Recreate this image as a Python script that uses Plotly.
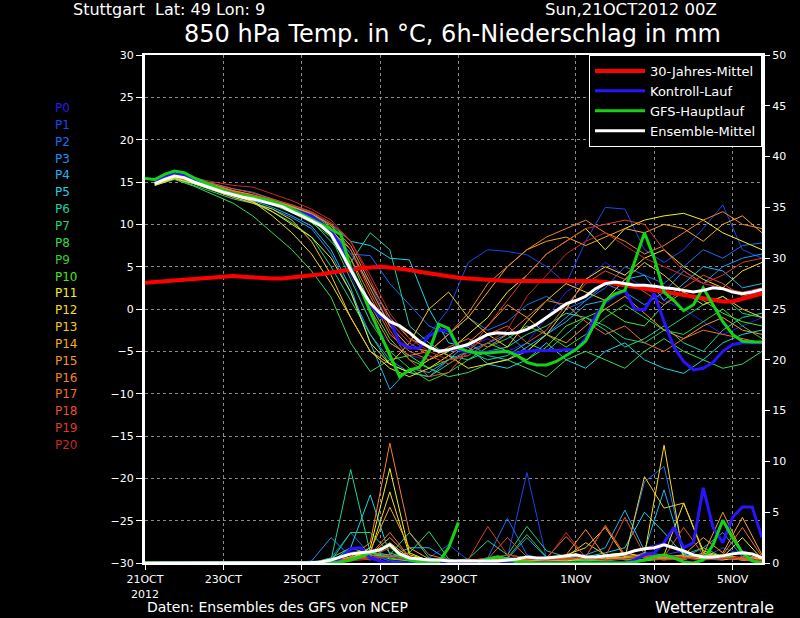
import plotly.graph_objects as go

# ---------------- data ----------------
member_names = ["P%d" % i for i in range(21)]
member_colors = ["#2b1be0", "#1a46f0", "#1a6ef5", "#1e96f5", "#1eb4f0", "#1ed2e6",
                 "#1ed2a0", "#1ed278", "#32dc50", "#32d232", "#46e61e", "#f5f01e",
                 "#f5dc1e", "#f5c81e", "#f5aa1e", "#f59628", "#f58228", "#f06e28",
                 "#e65028", "#dc3c28", "#c82828"]

# member 850 hPa temperatures, 12-hourly from +6h
p0_temp = [15.0, 15.9, 15.3, 14.6, 13.9, 13.2, 12.6, 11.8, 10.9, 9.0, 4.0, -1.5, -4.0, -5.5, -6.0, -5.0,
           -4.5, -3.5, -5.0, -4.0, -1.0, 2.0, 3.5, 5.5, 4.0, 2.5, 1.0, 0.0, -1.5, -3.0, -2.0, -1.0]
p1_temp = [14.8, 15.6, 15.0, 14.3, 13.6, 13.0, 12.4, 11.6, 10.6, 9.5, 6.5, 3.0, -2.0, -4.5, -3.0, 0.0,
           5.5, 7.0, 6.8, 6.4, 5.0, 3.0, 8.0, 12.0, 11.8, 7.0, 5.5, 7.0, 9.5, 12.3, 7.0, 6.0]
p2_temp = [14.9, 15.8, 15.4, 14.8, 14.2, 13.8, 13.0, 12.2, 11.2, 9.5, 6.5, 6.3, 3.0, 0.5, -2.0, -3.0,
           -1.0, -2.5, -1.5, 0.5, 1.5, 0.0, 1.0, 2.5, 5.0, 4.0, 3.0, 5.0, 7.0, 6.0, 7.5, 7.8]
p3_temp = [14.7, 15.5, 14.8, 14.0, 13.2, 12.6, 11.8, 10.8, 9.5, 6.5, 2.0, -3.0, -6.0, -7.5, -8.0, -6.0,
           -5.0, -4.0, -3.0, -5.0, -3.0, -1.0, 1.0, 3.0, 2.0, 0.5, 2.0, 4.5, 3.0, 5.0, 6.0, 6.5]
p4_temp = [14.8, 15.7, 15.0, 14.2, 13.4, 12.8, 12.0, 11.0, 9.8, 7.0, 2.5, -4.0, -9.5, -7.0, -7.5, -6.0,
           -4.0, -5.5, -6.0, -4.5, -3.0, -1.5, 0.5, 1.0, 3.5, 4.0, 1.0, 3.0, 5.0, 4.5, 2.5, 3.0]
p5_temp = [15.0, 15.9, 15.2, 14.5, 13.9, 13.4, 12.8, 12.0, 11.2, 10.0, 8.0, 7.5, 6.0, 5.8, 0.0, -4.0,
           -4.5, -6.5, -7.0, -6.0, -4.0, -6.0, -7.0, -5.0, -4.0, -6.0, -7.0, -7.6, -6.0, -4.0, -3.0, -2.5]
p6_temp = [14.9, 15.6, 15.0, 14.3, 13.7, 13.2, 12.6, 11.8, 10.4, 8.0, 5.5, 9.0, 7.0, -2.0, -4.0, -5.5,
           -6.0, -5.0, -4.5, -3.0, -2.0, -0.5, -1.0, -2.5, -4.5, -3.5, -2.0, -4.0, -5.0, -2.5, -1.0, -0.5]
p7_temp = [14.7, 15.4, 14.6, 13.8, 13.0, 12.5, 11.5, 10.2, 8.5, 5.0, 1.0, -3.0, -6.5, -7.5, -8.0, -6.5,
           -5.0, -6.0, -5.5, -4.0, -5.0, -3.0, -1.0, -2.0, -3.5, -4.0, -2.5, -1.0, 0.5, 1.5, -0.5, -1.0]
p8_temp = [14.6, 15.3, 14.5, 13.5, 12.5, 11.0, 9.0, 7.0, 4.5, 1.4, -4.0, -7.4, -6.0, -5.5, -7.0, -8.0,
           -7.5, -6.5, -6.0, -7.0, -8.0, -6.0, -5.0, -6.0, -7.0, -5.0, -3.5, -5.0, -6.0, -7.0, -6.5, -5.0]
p9_temp = [14.9, 15.7, 15.1, 14.3, 13.6, 13.0, 12.3, 11.4, 10.2, 8.5, 3.5, -1.5, -5.0, -7.0, -8.5, -7.5,
           -6.0, -4.5, -3.5, -2.0, -3.0, -4.5, -3.0, -1.0, 0.5, -1.0, -2.5, -3.0, -1.5, 0.0, -2.0, -3.5]
p10_temp = [15.0, 16.0, 15.3, 14.6, 13.9, 13.4, 12.8, 12.1, 11.2, 9.6, 6.0, 0.5, -3.5, -6.0, -7.0, -6.0,
            -5.5, -4.0, -5.0, -6.0, -4.5, -2.0, -1.0, 0.0, -1.5, -2.0, 0.5, 2.0, 1.0, -0.5, -1.5, -2.0]
p11_temp = [14.6, 15.4, 14.8, 14.1, 13.4, 12.7, 11.5, 10.0, 8.5, 6.0, 2.0, -4.0, -6.5, -7.5, -6.0, -5.0,
            -3.0, -1.0, 2.0, 4.0, 6.5, 8.0, 9.5, 7.0, 9.5, 10.5, 11.0, 11.3, 10.5, 9.0, 8.0, 7.0]
p12_temp = [14.8, 15.6, 15.0, 14.2, 13.5, 12.7, 11.0, 9.0, 6.5, 3.0, -1.0, -5.0, -7.0, -8.0, -7.0, -5.5,
            -7.0, -6.5, -6.0, -5.0, -3.0, 0.0, 3.5, 5.0, 4.0, 6.0, 7.0, 5.0, 3.5, 2.5, 4.5, 5.5]
p13_temp = [14.7, 15.5, 14.8, 14.0, 13.2, 12.5, 11.8, 10.5, 8.0, 4.0, -1.0, -5.0, -6.5, -4.0, 0.0, 2.0,
            -1.0, -3.0, -4.5, -1.5, 1.0, 3.0, 2.0, 1.0, 3.5, 5.5, 4.0, 2.0, 0.5, 1.5, 0.0, -1.0]
p14_temp = [14.9, 15.8, 15.2, 14.5, 13.8, 13.3, 12.7, 12.0, 11.0, 9.3, 7.0, 2.5, -2.0, -4.5, -5.0, -3.0,
            -1.0, 2.0, 5.0, 7.0, 8.0, 8.5, 7.5, 8.5, 9.5, 9.0, 10.0, 9.5, 8.0, 10.0, 11.0, 9.0]
p15_temp = [15.0, 15.9, 15.3, 14.7, 14.0, 13.5, 12.9, 12.1, 11.3, 9.8, 7.5, 3.0, -1.0, -3.5, -4.5, -5.5,
            -4.0, -2.0, 0.5, -1.0, -3.0, -4.0, -2.0, 0.0, 1.5, -0.5, -2.5, -3.5, -2.0, -1.0, -2.5, -3.0]
p16_temp = [14.8, 15.7, 15.1, 14.4, 13.7, 13.1, 12.5, 11.6, 10.5, 8.7, 5.0, 0.0, -4.0, -5.5, -5.0, -3.0,
            -0.5, 3.0, 5.0, 7.0, 8.5, 9.5, 10.5, 9.0, 8.0, 6.5, 7.5, 9.0, 10.5, 11.5, 10.0, 9.5]
p17_temp = [14.9, 15.8, 15.2, 14.6, 13.9, 13.3, 12.6, 11.8, 10.8, 9.0, 6.0, 1.5, -3.0, -5.0, -6.0, -4.5,
            -3.5, -4.5, -3.0, -1.0, 1.0, 0.5, -1.5, -3.0, -2.0, -4.0, -5.0, -3.5, -2.5, -3.0, -3.5, -4.0]
p18_temp = [15.0, 15.9, 15.4, 14.8, 14.2, 13.7, 13.0, 12.3, 11.4, 10.0, 7.0, 2.0, -2.5, -6.0, -8.0, -7.5,
            -5.0, -3.0, -2.0, -4.0, -2.5, 0.5, 3.0, 4.5, 3.5, 2.0, 0.5, 2.5, 4.0, 3.0, 1.5, 2.0]
p19_temp = [14.8, 15.6, 15.0, 14.4, 13.8, 13.4, 12.9, 12.3, 11.5, 10.2, 8.0, 3.5, -1.5, -4.0, -5.5, -6.5,
            -5.0, -2.0, 1.0, 4.0, 6.5, 8.0, 9.5, 10.0, 10.5, 10.0, 7.0, 4.5, 3.0, 4.0, 5.5, 6.0]
p20_temp = [15.0, 15.9, 15.5, 15.0, 14.6, 14.4, 13.6, 12.8, 11.8, 10.5, 8.0, 4.0, -0.5, -3.5, -5.0, -6.0,
            -5.5, -4.0, -2.5, 1.5, 4.0, 6.5, 8.0, 9.0, 7.5, 6.0, 5.0, 4.0, 3.0, 2.5, 2.0, 2.5]

# member precipitation (mm / 6h), 12-hourly from +6h
p0_rain = [0, 0, 0, 0, 0, 0, 0, 0, 0, 0.3, 1.2, 0.8, 0.3, 0, 0, 0,
           0, 0.2, 0.5, 0.3, 0, 0.2, 0.5, 0.3, 0.8, 1.5, 2.0, 0.8, 0.5, 0.3, 0.6, 0.2]
p1_rain = [0, 0, 0, 0, 0, 0, 0, 0, 0, 0.2, 0.8, 1.5, 0.6, 0.3, 0.5, 1.8,
           0.3, 0.2, 0.5, 8.9, 0.4, 0.2, 0.3, 0.5, 1.0, 0.6, 0.8, 1.2, 0.5, 1.5, 0.8, 0.3]
p2_rain = [0, 0, 0, 0, 0, 0, 0, 0, 0, 0.5, 3.0, 0.8, 0.2, 0, 0, 0,
           0.2, 0.5, 4.4, 0.8, 0.3, 0.2, 0.5, 0.3, 0.6, 8.0, 9.5, 1.0, 0.5, 0.8, 1.2, 0.6]
p3_rain = [0, 0, 0, 0, 0, 0, 0, 0, 0.2, 2.5, 0.6, 0.3, 0.8, 0.4, 0.2, 0,
           0, 0.2, 0.4, 2.5, 0.5, 0.2, 0.3, 0.6, 0.4, 1.0, 0.8, 0.5, 1.5, 3.0, 0.6, 0.3]
p4_rain = [0, 0, 0, 0, 0, 0, 0, 0, 0, 0.4, 0.8, 1.0, 0.6, 1.5, 1.5, 0.3,
           0, 0.1, 0.3, 0.6, 0.3, 0.5, 0.8, 1.5, 5.2, 1.2, 7.2, 0.8, 0.4, 0.6, 0.3, 0.2]
p5_rain = [0, 0, 0, 0, 0, 0, 0, 0, 0, 0.1, 1.5, 6.7, 0.8, 0.3, 0.2, 0,
           0, 0.2, 0.4, 0.3, 0.2, 0.3, 0.6, 1.0, 1.5, 5.0, 3.0, 0.8, 0.6, 0.4, 0.5, 0.3]
p6_rain = [0, 0, 0, 0, 0, 0, 0, 0, 0, 0.3, 9.2, 1.0, 0.8, 3.0, 0.5, 0.2,
           0.4, 2.2, 0.8, 0.5, 0.3, 0.2, 0.4, 0.3, 0.5, 0.8, 0.4, 0.3, 1.0, 0.6, 0.3, 0.2]
p7_rain = [0, 0, 0, 0, 0, 0, 0, 0, 0, 0.2, 3.0, 3.0, 1.0, 0.4, 0.2, 0,
           0, 0.3, 0.8, 3.6, 1.2, 0.6, 0.3, 0.2, 0.4, 0.3, 0.6, 0.5, 0.3, 0.8, 0.4, 0.2]
p8_rain = [0, 0, 0, 0, 0, 0, 0, 0, 0, 0.5, 1.5, 0.8, 0.6, 1.0, 3.1, 0.4,
           0, 0.1, 0.2, 0.4, 0.3, 0.2, 0.5, 0.8, 0.3, 0.2, 0.4, 0.6, 0.8, 0.5, 0.3, 0.2]
p9_rain = [0, 0, 0, 0, 0, 0, 0, 0, 0, 0.1, 0.6, 1.2, 0.5, 0.2, 0.1, 0,
           0, 0.2, 0.5, 2.8, 0.6, 0.4, 0.2, 0.3, 0.5, 0.6, 0.3, 0.8, 1.5, 0.6, 0.4, 0.2]
p10_rain = [0, 0, 0, 0, 0, 0, 0, 0, 0, 0.2, 0.8, 1.0, 0.4, 0.2, 0.1, 0,
            0, 0.1, 0.3, 0.5, 0.4, 0.3, 0.2, 0.4, 0.6, 0.3, 0.5, 0.4, 0.6, 0.8, 0.3, 0.1]
p11_rain = [0, 0, 0, 0, 0, 0, 0, 0, 0, 0.1, 0.4, 1.5, 9.3, 1.0, 0.2, 0,
            0, 0.1, 0.2, 0.3, 0.4, 0.2, 0.5, 0.8, 1.0, 0.6, 0.8, 5.9, 1.2, 0.6, 2.5, 0.4]
p12_rain = [0, 0, 0, 0, 0, 0, 0, 0, 0, 0.2, 0.5, 1.0, 7.0, 0.8, 0.3, 0.2,
            0.3, 0.4, 0.3, 0.2, 0.3, 0.8, 1.5, 3.5, 0.6, 0.8, 11.6, 0.5, 0.4, 0.3, 0.6, 0.4]
p13_rain = [0, 0, 0, 0, 0, 0, 0, 0, 0, 0.1, 0.3, 0.8, 2.0, 0.5, 0.2, 0.1,
            0.2, 0.3, 0.2, 0.4, 0.5, 0.6, 2.0, 0.8, 0.5, 8.5, 5.4, 5.9, 1.0, 0.5, 0.3, 0.2]
p14_rain = [0, 0, 0, 0, 0, 0, 0, 0, 0, 0.2, 0.5, 1.2, 5.5, 1.5, 0.4, 0.2,
            0.1, 0.2, 0.3, 0.4, 0.2, 0.3, 0.6, 0.4, 0.8, 0.5, 0.6, 0.8, 2.5, 1.0, 4.5, 0.8]
p15_rain = [0, 0, 0, 0, 0, 0, 0, 0, 0, 0.1, 0.4, 0.8, 2.5, 0.6, 0.3, 0.1,
            0, 0.2, 0.3, 0.2, 0.4, 0.8, 3.3, 0.6, 0.4, 0.3, 0.5, 0.6, 0.8, 5.0, 1.0, 0.3]
p16_rain = [0, 0, 0, 0, 0, 0, 0, 0, 0, 0.2, 0.6, 2.0, 11.8, 3.0, 0.8, 0.3,
            0.2, 0.3, 0.5, 0.4, 0.3, 0.5, 0.4, 0.3, 0.6, 0.8, 0.5, 0.4, 0.6, 0.8, 0.5, 0.3]
p17_rain = [0, 0, 0, 0, 0, 0, 0, 0, 0, 0.1, 0.5, 0.8, 3.0, 0.6, 0.2, 0,
            0, 0.2, 0.4, 0.3, 0.5, 2.6, 0.6, 3.7, 0.8, 0.5, 0.4, 0.6, 0.5, 0.8, 3.5, 0.6]
p18_rain = [0, 0, 0, 0, 0, 0, 0, 0, 0, 0.2, 0.4, 0.6, 1.5, 0.5, 0.3, 0.1,
            0.2, 0.4, 2.5, 0.6, 0.4, 0.3, 0.5, 0.6, 4.5, 0.8, 0.6, 3.5, 0.8, 0.5, 0.4, 0.3]
p19_rain = [0, 0, 0, 0, 0, 0, 0, 0, 0, 0.1, 0.3, 0.5, 0.8, 0.4, 0.2, 0.1,
            0.3, 3.6, 0.8, 0.5, 0.3, 0.4, 0.6, 3.7, 0.8, 0.5, 0.3, 0.4, 0.6, 0.5, 0.3, 0.2]
p20_rain = [0, 0, 0, 0, 0, 0, 0, 0, 0, 0.1, 0.2, 0.4, 0.6, 0.3, 0.1, 0,
            0.2, 0.5, 0.8, 0.4, 0.3, 3.0, 0.5, 0.3, 0.4, 0.6, 0.8, 0.5, 0.3, 0.4, 0.6, 0.2]

member_temps = [p0_temp, p1_temp, p2_temp, p3_temp, p4_temp, p5_temp, p6_temp, p7_temp,
                p8_temp, p9_temp, p10_temp, p11_temp, p12_temp, p13_temp, p14_temp,
                p15_temp, p16_temp, p17_temp, p18_temp, p19_temp, p20_temp]
member_rains = [p0_rain, p1_rain, p2_rain, p3_rain, p4_rain, p5_rain, p6_rain, p7_rain,
                p8_rain, p9_rain, p10_rain, p11_rain, p12_rain, p13_rain, p14_rain,
                p15_rain, p16_rain, p17_rain, p18_rain, p19_rain, p20_rain]

# ensemble mean temperature, 6-hourly from +6h
mean_temp = [14.8, 15.3, 15.7, 15.5, 15.0, 14.6, 14.2, 13.8, 13.5, 13.2,
             13.0, 12.7, 12.4, 12.1, 11.5, 11.0, 10.4, 9.8, 8.8, 6.8,
             4.6, 2.5, 0.7, -0.5, -1.5, -2.0, -2.8, -3.8, -4.5, -5.0,
             -4.8, -4.5, -4.2, -3.6, -3.0, -2.8, -2.9, -2.8, -2.4, -1.8,
             -1.0, -0.2, 0.6, 1.0, 1.5, 2.4, 3.0, 3.2, 3.0, 2.8,
             2.8, 2.7, 2.5, 2.4, 2.2, 2.0, 2.2, 2.5, 2.4, 2.0,
             1.8, 2.0, 2.3]
# GFS main run temperature, 6-hourly from 0h
gfs_temp = [15.4, 15.3, 15.9, 16.3, 16.1, 15.5, 15.0, 14.5, 14.0, 13.6,
            13.4, 13.2, 13.0, 12.7, 12.3, 11.8, 11.2, 10.6, 10.0, 9.4,
            8.8, 4.8, 2.5, -0.3, -2.8, -5.5, -8.0, -7.2, -6.9, -5.0,
            -1.8, -2.3, -4.6, -5.0, -5.2, -5.2, -5.1, -5.0, -5.5, -6.3,
            -6.6, -6.6, -6.2, -5.5, -4.8, -3.8, -1.5, 1.0, 1.8, 2.2,
            5.5, 9.0, 6.0, 2.0, 1.0, -0.2, 0.5, 2.5, 0.5, -1.5,
            -3.0, -3.8, -3.9, -3.9]
# control run temperature, 6-hourly from +6h
ctrl_temp = [15.0, 15.5, 15.9, 15.7, 15.2, 14.8, 14.4, 14.0, 13.6, 13.3,
             13.1, 12.8, 12.5, 12.2, 11.8, 11.4, 11.0, 10.2, 9.2, 7.5,
             5.0, 2.5, 0.5, -0.9, -1.3, -4.0, -4.6, -4.6, -3.2, -2.5,
             -2.5, -4.8, -5.1, -5.1, -5.1, -5.0, -5.1, -5.2, -5.0, -4.9,
             -4.9, -4.9, -4.8, -4.8, -3.5, -0.8, 0.8, 1.6, 2.2, 0.0,
             -0.1, 1.8, -1.5, -4.5, -6.2, -7.2, -7.0, -6.3, -5.0, -4.2,
             -4.0, -4.0, -4.0]
# 30-year climatology, 6-hourly from 0h
clim_temp = [3.1, 3.2, 3.3, 3.4, 3.5, 3.6, 3.7, 3.8, 3.9, 3.9,
             3.8, 3.7, 3.7, 3.6, 3.6, 3.7, 3.8, 3.9, 4.1, 4.3,
             4.5, 4.7, 4.8, 4.9, 5.0, 4.9, 4.8, 4.6, 4.4, 4.2,
             4.0, 3.8, 3.7, 3.6, 3.5, 3.4, 3.4, 3.3, 3.3, 3.3,
             3.3, 3.3, 3.4, 3.4, 3.4, 3.4, 3.3, 3.2, 3.0, 2.8,
             2.6, 2.4, 2.2, 2.0, 1.8, 1.6, 1.4, 1.2, 1.0, 0.9,
             0.9, 1.2, 1.5, 1.8]
# precipitation of the mean (from 0h), GFS (from 0h) and control (from +6h)
mean_rain = [0, 0, 0, 0, 0, 0, 0, 0, 0, 0,
             0, 0, 0, 0, 0, 0, 0, 0.05, 0.1, 0.3,
             0.6, 0.9, 1.0, 1.1, 1.3, 1.8, 0.9, 0.5, 0.4, 0.3,
             0.3, 0.2, 0.2, 0.2, 0.2, 0.2, 0.2, 0.3, 0.4, 0.6,
             0.5, 0.5, 0.6, 0.7, 0.8, 0.6, 0.6, 0.7, 0.8, 0.9,
             1.2, 1.4, 1.5, 1.8, 1.5, 1.2, 0.8, 0.6, 0.6, 0.7,
             0.9, 1.0, 0.9, 0.5]
gfs_rain = [0, 0, 0, 0, 0, 0, 0, 0, 0, 0,
            0, 0, 0, 0, 0, 0, 0, 0, 0, 0,
            0.1, 0.3, 0.6, 1.0, 1.3, 1.8, 0.8, 0.3, 0.1, 0,
            0.1, 1.5, 4.0, None, 0.1, 0.4, 0.6, 0.4, 0.1, 0.1,
            0, 0, 0, 0, 0, 0, 0, 0, 0, 0,
            0.1, 0.3, 0.6, 0.8, 0.5, 0.1, 0, 0.3, 1.8, 4.2,
            2.5, 1.0, 0.2, 0]
ctrl_rain = [0, 0, 0, 0, 0, 0, 0, 0, 0, 0,
             0, 0, 0, 0, 0, 0, 0, 0, 0, 0.5,
             1.4, 1.5, 0.5, 0.2, 0, 0, 0, 0, 0, 0,
             0, 0, 0, 0, 0, 0, 0, 0, 0, 0,
             0, 0, 0, 0, 0, 0, 0, 0, 0, 0.3,
             0.8, 1.0, 2.0, 3.5, 1.5, 2.0, 7.4, 3.5, 2.0, 4.5,
             5.5, 5.5, 2.5]

tick_hours = [0, 48, 96, 144, 192, 264, 312, 360]
tick_labels = ["21OCT<br>2012", "23OCT", "25OCT", "27OCT", "29OCT", "1NOV", "3NOV", "5NOV"]
legend_names = ["30-Jahres-Mittel", "Kontroll-Lauf", "GFS-Hauptlauf", "Ensemble-Mittel"]

# ---------------- figure ----------------
W, H = 800, 618
ML, MR, MT, MB = 145, 38, 55, 55
PW, PH = W - ML - MR, H - MT - MB
FONT = "DejaVu Sans"


def px(x):
    return (x - ML) / PW


def py(y):
    return (H - MB - y) / PH


def hours(series, start, step):
    return [start + step * i for i in range(len(series))]


fig = go.Figure()

for name, col, temp in zip(member_names, member_colors, member_temps):
    fig.add_trace(go.Scatter(x=hours(temp, 6, 12), y=temp, mode="lines", name=name,
                             line=dict(color=col, width=1), showlegend=False, hoverinfo="skip"))
for name, col, rain in zip(member_names, member_colors, member_rains):
    fig.add_trace(go.Scatter(x=hours(rain, 6, 12), y=rain, mode="lines", name=name, yaxis="y2",
                             line=dict(color=col, width=1), showlegend=False, hoverinfo="skip"))

fig.add_trace(go.Scatter(x=hours(clim_temp, 0, 6), y=clim_temp, mode="lines", name=legend_names[0],
                         line=dict(color="#ff0000", width=4)))
fig.add_trace(go.Scatter(x=hours(ctrl_temp, 6, 6), y=ctrl_temp, mode="lines", name=legend_names[1],
                         line=dict(color="#2a14ff", width=3)))
fig.add_trace(go.Scatter(x=hours(gfs_temp, 0, 6), y=gfs_temp, mode="lines", name=legend_names[2],
                         line=dict(color="#14d214", width=3)))
fig.add_trace(go.Scatter(x=hours(mean_temp, 6, 6), y=mean_temp, mode="lines", name=legend_names[3],
                         line=dict(color="#ffffff", width=3)))

fig.add_trace(go.Scatter(x=hours(ctrl_rain, 6, 6), y=ctrl_rain, mode="lines", yaxis="y2",
                         line=dict(color="#2a14ff", width=3), showlegend=False))
fig.add_trace(go.Scatter(x=hours(gfs_rain, 0, 6), y=gfs_rain, mode="lines", yaxis="y2",
                         line=dict(color="#14d214", width=3), showlegend=False, connectgaps=False))
fig.add_trace(go.Scatter(x=hours(mean_rain, 0, 6), y=mean_rain, mode="lines", yaxis="y2",
                         line=dict(color="#ffffff", width=3), showlegend=False))

axis_font = dict(family=FONT, size=11, color="white")
grid_col = "#8a8a8a"

fig.update_layout(
    width=W, height=H,
    paper_bgcolor="black", plot_bgcolor="black",
    margin=dict(l=ML, r=MR, t=MT, b=MB, pad=0, autoexpand=False),
    showlegend=True,
    legend=dict(x=1, y=1, xanchor="right", yanchor="top", bgcolor="black",
                bordercolor="white", borderwidth=1, font=dict(family=FONT, size=13, color="white"),
                tracegroupgap=0, itemwidth=50),
    xaxis=dict(range=[0, 378], tickvals=tick_hours, ticktext=tick_labels, tickfont=axis_font,
               ticks="outside", ticklen=5, tickcolor="white", showgrid=True, gridcolor=grid_col,
               griddash="dot", gridwidth=1, showline=True, linecolor="white", linewidth=2,
               mirror=True, zeroline=False),
    yaxis=dict(range=[-30, 30], tick0=-30, dtick=5, tickfont=axis_font, ticks="outside",
               ticklen=6, tickcolor="white", showgrid=True, gridcolor=grid_col, griddash="dot",
               gridwidth=1, showline=True, linecolor="white", linewidth=3, mirror=True,
               zeroline=False),
    yaxis2=dict(range=[0, 50], tick0=0, dtick=5, overlaying="y", side="right", tickfont=axis_font,
                ticks="outside", ticklen=6, tickcolor="white", showgrid=False, showline=True,
                linecolor="white", linewidth=2, zeroline=False),
    hovermode=False,
)

annotations = [
    dict(text="Stuttgart\u00a0\u00a0Lat: 49 Lon: 9", x=px(72), y=py(10), xanchor="left",
         yanchor="middle", font=dict(family=FONT, size=16, color="white")),
    dict(text="Sun,21OCT2012 00Z", x=px(544), y=py(10), xanchor="left", yanchor="middle",
         font=dict(family=FONT, size=16.5, color="white")),
    dict(text="850 hPa Temp. in °C, 6h-Niederschlag in mm", x=px(452), y=py(34),
         xanchor="center", yanchor="middle", font=dict(family=FONT, size=24, color="white")),
    dict(text="Daten: Ensembles des GFS von NCEP", x=px(146), y=py(607), xanchor="left",
         yanchor="middle", font=dict(family=FONT, size=14, color="white")),
    dict(text="Wetterzentrale", x=px(654), y=py(607), xanchor="left", yanchor="middle",
         font=dict(family=FONT, size=16, color="white")),
]
for i, (name, col) in enumerate(zip(member_names, member_colors)):
    annotations.append(dict(text=name, x=px(54), y=py(108 + 16.85 * i), xanchor="left",
                            yanchor="middle", font=dict(family=FONT, size=12, color=col)))
for a in annotations:
    a.update(xref="paper", yref="paper", showarrow=False, borderpad=0)
fig.update_layout(annotations=annotations)

fig.write_html("out.html", config={"displayModeBar": False},
               post_script="document.body.style.margin='0';document.body.style.overflow='hidden';")
